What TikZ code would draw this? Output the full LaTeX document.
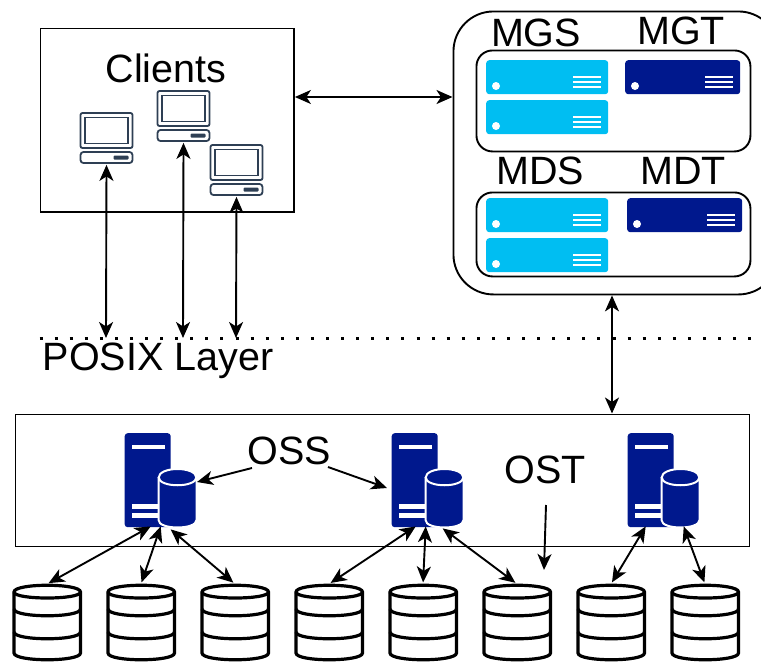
\documentclass[tikz,border=0pt]{standalone}
\usepackage{fontspec}
\setmainfont{Liberation Sans}
\usetikzlibrary{arrows.meta,positioning}
\definecolor{lightserver}{HTML}{00BEF2}
\definecolor{darkserver}{HTML}{00188D}
\definecolor{pcgrey}{HTML}{2E3F54}
\tikzset{bigtext/.style={font=\fontsize{39.5}{39.5}\selectfont,inner sep=0},
    plainbox/.style={draw,line width=1.9pt,fill=white},
    link/.style={<->,line width=1.9pt,>={Stealth[length=16pt,width=14pt,inset=4.5pt]}},
    onearrow/.style={->,line width=1.9pt,>={Stealth[length=16pt,width=14pt,inset=4.5pt]}},
    rackbox/.style={fill=darkserver,rounded corners=3pt,inner sep=0,minimum width=46pt,minimum height=94pt,anchor=north west},
    anchorpoint/.style={inner sep=0,minimum size=0pt}
}
\newcommand{\clientpc}[3]
{
% args: (name, x of left edge, y of top edge)
    \begin{scope}[shift={(#2,#3)},pcgrey,line width=1.8pt]
        \draw [rounded corners=2pt] (0,0) rectangle (52,35);
        \draw (4.5,4.5) rectangle (47.5,30.5);
        \draw [rounded corners=3pt] (0,39) rectangle (52,50);
        \fill [rounded corners=1pt] (33,42.5) rectangle (48,46.5);
        \node (#1) [anchorpoint] at (26,51) {};
    \end{scope}
}
\newcommand{\serverunit}[5]
{
% args: (name, x of left edge, y of top edge, width, colour)
    \node (#1) [fill=#5,rounded corners=3pt,inner sep=0,minimum width=#4pt,minimum height=34pt,anchor=north west] at (#2,#3) {};
    \begin{scope}[shift={(#2,#3)}]
        \fill [white] (10,26) circle (4pt);
        \foreach \y in {17,22,27}
            \draw [white,line width=1.3pt] (#4-35,\y) -- (#4-7,\y);
    \end{scope}
}
\newcommand{\storageserver}[3]
{
% args: (name, x of left edge, y of top edge)
    \node (#1) [rackbox] at (#2,#3) {};
    \begin{scope}[shift={(#2,#3)}]
        \fill [white] (7,12) rectangle (40,16);
        \fill [white] (7,71) rectangle (40,76);
        \fill [white] (7,80) rectangle (40,85);
        \draw [white,fill=darkserver,line width=2pt] (34,45) .. controls (34,33) and (72,33) .. (72,45)
            -- (72,87) .. controls (72,97) and (34,97) .. (34,87) -- cycle;
        \draw [white,line width=2pt] (34,44) .. controls (34,55) and (72,55) .. (72,44);
    \end{scope}
}
\newcommand{\diskstack}[3]
{
% args: (name, x of left edge, y of top edge)
    \begin{scope}[shift={(#2,#3)},line width=3.2pt]
        \draw [fill=white] (1,7) .. controls (1,-2) and (67.5,-2) .. (67.5,7)
            -- (67.5,68) .. controls (67.5,77) and (1,77) .. (1,68) -- cycle;
        \draw (1,7) .. controls (1,15) and (67.5,15) .. (67.5,7);
        \draw (1,24) .. controls (1,33) and (67.5,33) .. (67.5,24);
        \draw (1,47) .. controls (1,56) and (67.5,56) .. (67.5,47);
        \node (#1) [anchorpoint] at (34,-1) {};
    \end{scope}
}

\begin{document}
\begin{tikzpicture}[x=1pt,y=-1pt]

\useasboundingbox (0,0) rectangle (761,662);
\clip (0,0) rectangle (761,662);

\node (clients) [plainbox,anchor=north west,minimum width=253.5pt,minimum height=183.5pt,inner sep=0] at (39.5,27.5) {};
\node (clientslabel) [bigtext] at (166,68) {Clients};
\clientpc{pcA}{80.5}{113}
\clientpc{pcB}{157.5}{91}
\clientpc{pcC}{210.5}{145}

% management servers
\node (mgmt) [plainbox,anchor=north west,rounded corners=40pt,minimum width=325pt,minimum height=283pt,inner sep=0] at (452.5,10.5) {};
\node (mgsbox) [plainbox,anchor=north west,rounded corners=16pt,minimum width=274pt,minimum height=101pt,inner sep=0] at (475.5,49.5) {};
\node (mdsbox) [plainbox,anchor=north west,rounded corners=16pt,minimum width=274pt,minimum height=84pt,inner sep=0] at (475.5,191.5) {};
\node (mgslabel) [bigtext] at (536,33) {MGS};
\node (mgtlabel) [bigtext] at (681,31) {MGT};
\node (mdslabel) [bigtext] at (540,171) {MDS};
\node (mdtlabel) [bigtext] at (683,171) {MDT};
\serverunit{mgsA}{486}{60}{122}{lightserver}
\serverunit{mgsB}{486}{100}{122}{lightserver}
\serverunit{mgt}{625}{60}{115}{darkserver}
\serverunit{mdsA}{486}{198}{122}{lightserver}
\serverunit{mdsB}{486}{238}{122}{lightserver}
\serverunit{mdt}{627}{198}{115}{darkserver}

% posix layer
\draw [line width=3pt,dash pattern=on 3pt off 12.08pt] (39.5,338) -- (752,338);
\coordinate (posixA) at (106,338);
\coordinate (posixB) at (183,338);
\coordinate (posixC) at (236,338);
\node (posixlabel) [bigtext] at (158,361) {POSIX Layer};

\draw [link] (pcA) -- (posixA);
\draw [link] (pcB) -- (posixB);
\draw [link] (pcC) -- (posixC);
\draw [link] (clients.east |- 0,97) -- (mgmt.west |- 0,97);

% storage servers
\node (ossbox) [plainbox,anchor=north west,minimum width=734pt,minimum height=132pt,inner sep=0] at (14.5,413.5) {};
\draw [link] (mgmt.south -| 612,0) -- (ossbox.north -| 612,0);
\storageserver{ossA}{124.5}{433}
\storageserver{ossB}{391.5}{433}
\storageserver{ossC}{627.5}{433}
\node (osslabel) [bigtext] at (289,451) {OSS};
\node (ostlabel) [bigtext] at (545,470) {OST};

\foreach \i/\x in {1/13,2/107,3/201,4/295,5/389,6/483,7/577,8/671}
{
    \diskstack{disk\i}{\x}{585}
}

\coordinate (ossfromA) at (252,468);
\coordinate (ossfromB) at (328,467);
\coordinate (ostfrom) at (546,505);
\coordinate (ostto) at (544,570);
\draw [onearrow] (ossfromA) -- (197,482);
\draw [onearrow] (ossfromB) -- (387,488);
\draw [onearrow] (ostfrom) -- (ostto);

\draw [link] ([xshift=3pt,yshift=1pt]ossA.south) -- (disk1);
\draw [link] ([xshift=13pt,yshift=1pt]ossA.south) -- (disk2);
\draw [link] ([xshift=23pt,yshift=-2pt]ossA.south) -- (disk3);
\draw [link] ([xshift=1pt,yshift=1pt]ossB.south) -- (disk4);
\draw [link] ([xshift=11pt,yshift=1pt]ossB.south) -- (disk5);
\draw [link] ([xshift=28pt,yshift=-1pt]ossB.south) -- (disk6);
\draw [link] ([xshift=-5pt,yshift=1pt]ossC.south) -- (disk7);
\draw [link] ([xshift=33pt,yshift=1pt]ossC.south) -- (disk8);

\end{tikzpicture}
\end{document}
